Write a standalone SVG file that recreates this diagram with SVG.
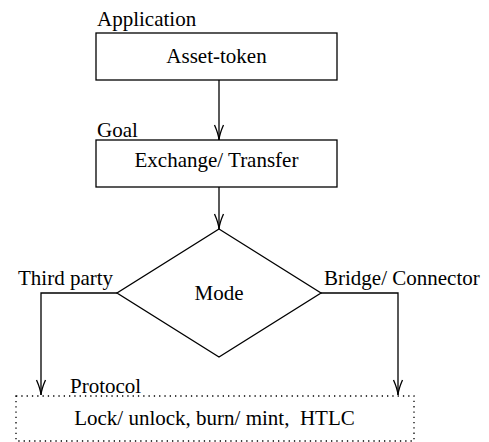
<svg xmlns="http://www.w3.org/2000/svg" width="489" height="442" viewBox="0 0 489 442">
<style>
text{font-family:"Liberation Serif","Times New Roman",Times,"DejaVu Serif",serif;font-size:21px;fill:#000}
.c{text-anchor:middle}
.box{fill:#fff;stroke:#000;stroke-width:1.3}
.dot{fill:#fff;stroke:#000;stroke-width:1.3;stroke-dasharray:1.3 4}
.ln{fill:none;stroke:#000;stroke-width:1.3}
</style>
<defs>
<marker id="ah" markerUnits="userSpaceOnUse" markerWidth="20" markerHeight="14" viewBox="-18 -7 20 14" refX="0" refY="0" orient="auto">
<path d="M-15,-4.5 Q-6,-0.5 0,0 Q-6,0.5 -15,4.5" fill="none" stroke="#000" stroke-width="1.3"/>
</marker>
</defs>
<rect width="489" height="442" fill="#fff"/>
<g id="connectors">
<line class="ln" x1="219" y1="80" x2="219" y2="140" marker-end="url(#ah)"/>
<line class="ln" x1="219" y1="187" x2="219" y2="229" marker-end="url(#ah)"/>
<polyline class="ln" points="117,293 41,293 41,395" marker-end="url(#ah)"/>
<polyline class="ln" points="321,293 398,293 398,395" marker-end="url(#ah)"/>
</g>
<g id="application">
<rect class="box" x="96" y="33" width="241" height="47"/>
<text x="97" y="26">Application</text>
<text class="c" x="216.5" y="63">Asset-token</text>
</g>
<g id="goal">
<rect class="box" x="96" y="140" width="241" height="47"/>
<text x="97" y="137">Goal</text>
<text class="c" x="216.5" y="167">Exchange/ Transfer</text>
</g>
<g id="mode">
<polygon class="box" points="219,229 321,293 219,357 117,293"/>
<text class="c" x="219" y="300">Mode</text>
<text x="18" y="285">Third party</text>
<text x="324" y="285">Bridge/ Connector</text>
</g>
<g id="protocol">
<rect class="dot" x="16" y="396" width="398" height="45"/>
<text x="70" y="393">Protocol</text>
<text class="c" x="214.5" y="425" xml:space="preserve">Lock/ unlock, burn/ mint,  HTLC</text>
</g>
</svg>
